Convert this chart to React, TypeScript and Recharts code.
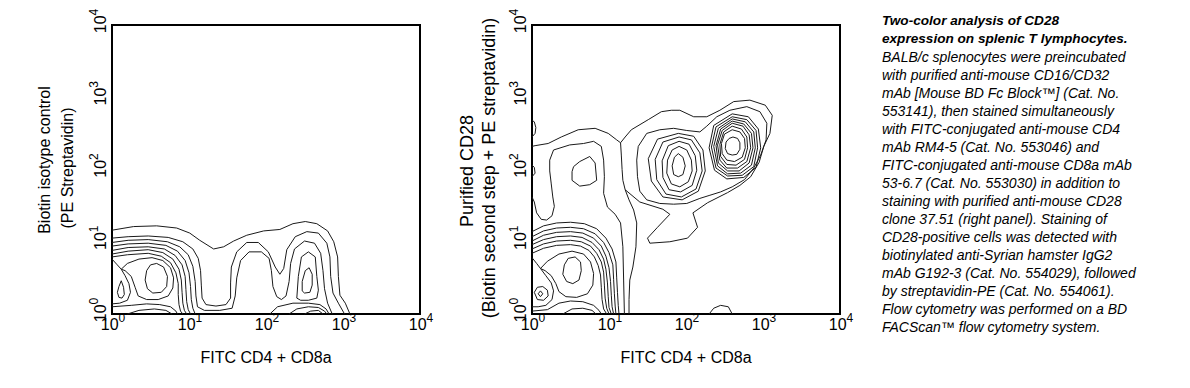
import React from 'react';
import { LineChart, Line, XAxis, YAxis, ReferenceArea } from 'recharts';

type Pt = [number, number];

// axes are in decades (log10 of fluorescence), 10^0 .. 10^4
const decades = [0, 1, 2, 3, 4];
const xTitle = 'FITC CD4 + CD8a';
const leftYTitle = ['Biotin isotype control', '(PE Streptavidin)'];
const rightYTitle = ['Purified CD28', '(Biotin second step + PE streptavidin)'];

const captionBold = ['Two-color analysis of CD28', 'expression on splenic T lymphocytes.'];
const captionLines = [
  'BALB/c splenocytes were preincubated',
  'with purified anti-mouse CD16/CD32',
  'mAb [Mouse BD Fc Block™] (Cat. No.',
  '553141), then stained simultaneously',
  'with FITC-conjugated anti-mouse CD4',
  'mAb RM4-5 (Cat. No. 553046) and',
  'FITC-conjugated anti-mouse CD8a mAb',
  '53-6.7 (Cat. No. 553030) in addition to',
  'staining with purified anti-mouse CD28',
  'clone 37.51 (right panel). Staining of',
  'CD28-positive cells was detected with',
  'biotinylated anti-Syrian hamster IgG2',
  'mAb G192-3 (Cat. No. 554029), followed',
  'by streptavidin-PE (Cat. No. 554061).',
  'Flow cytometry was performed on a BD',
  'FACScan™ flow cytometry system.',
];

// ---- left panel (isotype control) ----
const leftOuter: Pt[] = [[0,1.16],[0.28,1.21],[0.58,1.22],[0.84,1.19],[1.01,1.12],[1.14,1.02],[1.32,0.9],[1.45,0.93],[1.58,1.01],[1.75,1.09],[1.97,1.15],[2.18,1.17],[2.35,1.25],[2.51,1.28],[2.66,1.25],[2.8,1.15],[2.88,1.0],[2.93,0.79],[2.94,0.52],[2.96,0.26],[3.03,0.15],[3.09,0]];
const leftLevel2: Pt[] = [[0,1.05],[0.21,1.07],[0.47,1.08],[0.73,1.06],[0.92,1.0],[1.05,0.9],[1.12,0.77],[1.15,0.6],[1.16,0.4],[1.17,0.22],[1.22,0.13],[1.35,0.11],[1.48,0.13],[1.54,0.22],[1.54,0.43],[1.55,0.65],[1.62,0.86],[1.75,0.99],[1.9,0.99],[2.03,0.86],[2.12,0.65],[2.18,0.55],[2.23,0.63],[2.27,0.89],[2.38,1.07],[2.53,1.14],[2.68,1.12],[2.79,0.98],[2.83,0.79],[2.84,0.52],[2.87,0.29],[2.94,0.15],[3.02,0]];
const leftLevel3: Pt[] = [[0,0.99],[0.21,1.02],[0.47,1.03],[0.72,1.0],[0.88,0.93],[0.99,0.82],[1.05,0.66],[1.08,0.45],[1.09,0.25],[1.11,0.1],[1.2,0.05],[1.4,0.05],[1.56,0.08],[1.6,0.25],[1.62,0.5],[1.67,0.74],[1.78,0.86],[1.94,0.86],[2.04,0.77],[2.07,0.6],[2.09,0.38],[2.14,0.24],[2.2,0.2],[2.26,0.25],[2.3,0.45],[2.32,0.7],[2.37,0.9],[2.5,1.01],[2.63,0.98],[2.71,0.84],[2.74,0.6],[2.76,0.35],[2.8,0.15],[2.86,0]];
const leftBlob: Pt[][] = [
  [[0,0.94],[0.21,0.97],[0.47,0.98],[0.7,0.95],[0.85,0.87],[0.95,0.74],[1.0,0.57],[1.02,0.38],[1.03,0.2],[1.05,0.08],[1.08,0]],
  [[0,0.88],[0.21,0.92],[0.47,0.93],[0.68,0.9],[0.82,0.81],[0.91,0.68],[0.95,0.52],[0.96,0.34],[0.97,0.17],[0.99,0.06],[1.02,0]],
  [[0,0.83],[0.21,0.87],[0.47,0.89],[0.66,0.85],[0.79,0.76],[0.87,0.62],[0.9,0.47],[0.91,0.3],[0.92,0.15],[0.94,0.05],[0.97,0]],
  [[0,0.79],[0.2,0.82],[0.47,0.84],[0.64,0.8],[0.76,0.71],[0.83,0.57],[0.86,0.42],[0.86,0.27],[0.87,0.13],[0.89,0.04],[0.92,0]],
];
const leftSaddle: Pt[][] = [
  [[0.12,0.62],[0.2,0.7],[0.35,0.76],[0.52,0.78],[0.66,0.74],[0.76,0.64],[0.8,0.5],[0.79,0.36],[0.73,0.25],[0.6,0.2],[0.45,0.2],[0.34,0.25],[0.3,0.37],[0.25,0.52],[0.17,0.6],[0.12,0.62]],
  [[0,0.76],[0.06,0.69],[0.12,0.62],[0.17,0.53],[0.22,0.42],[0.24,0.3],[0.2,0.19],[0.1,0.15],[0,0.14]],
];
const leftCores: Pt[][] = [
  [[0.12,0.46],[0.09,0.38],[0.07,0.3],[0.09,0.23],[0.13,0.22],[0.16,0.27],[0.15,0.37],[0.12,0.46]],
  [[0.45,0.6],[0.5,0.68],[0.58,0.7],[0.67,0.65],[0.72,0.52],[0.71,0.38],[0.64,0.3],[0.53,0.29],[0.46,0.35],[0.43,0.47],[0.45,0.6]],
];
const leftFloor: Pt[][] = [
  [[0,0.1],[0.25,0.12],[0.45,0.14],[0.62,0.13],[0.76,0.1],[0.83,0.04],[0.85,0]],
  [[0.2,0],[0.35,0.05],[0.55,0.07],[0.7,0.05],[0.78,0]],
  [[2.05,0],[2.15,0.1],[2.35,0.15],[2.55,0.15],[2.7,0.13],[2.78,0.07],[2.82,0]],
  [[2.3,0],[2.4,0.07],[2.55,0.1],[2.68,0.09],[2.76,0.04],[2.79,0]],
  [[2.5,0],[2.58,0.04],[2.68,0.05],[2.74,0]],
];
const leftRightBump: Pt[][] = [
  [[2.4,0.22],[2.42,0.52],[2.46,0.79],[2.55,0.86],[2.64,0.79],[2.66,0.52],[2.68,0.33],[2.66,0.22],[2.55,0.19],[2.45,0.19],[2.4,0.22]],
  [[2.47,0.32],[2.47,0.45],[2.51,0.6],[2.56,0.64],[2.6,0.55],[2.6,0.4],[2.57,0.3],[2.5,0.29],[2.47,0.32]],
];

// ---- right panel (CD28) ----
const rightOuterLeft: Pt[] = [[0,2.32],[0.04,2.33],[0.21,2.36],[0.38,2.45],[0.6,2.55],[0.82,2.57],[0.99,2.5],[1.1,2.41],[1.15,2.37],[1.16,2.2],[1.17,2.0],[1.18,1.85],[1.21,1.72],[1.26,1.58],[1.32,1.44],[1.36,1.26],[1.35,0.93],[1.31,0.65],[1.27,0.47],[1.26,0.2],[1.26,0]];
const rightOuterLoop: Pt[] = [[1.21,1.72],[1.4,1.55],[1.7,1.45],[1.79,1.38],[1.63,1.2],[1.5,1.05],[1.53,0.98],[1.79,1.0],[2.02,1.05],[2.15,1.2],[2.09,1.4],[2.28,1.54],[2.54,1.68],[2.7,1.78],[2.84,1.9],[2.95,2.1],[3.01,2.32],[3.09,2.5],[3.12,2.75],[3.03,2.89],[2.83,2.96],[2.62,2.94],[2.44,2.82],[2.27,2.73],[2.1,2.73],[1.92,2.82],[1.81,2.82],[1.68,2.8],[1.51,2.69],[1.29,2.55],[1.21,2.45],[1.15,2.37]];
const rightLevel2Left: Pt[] = [[0,1.62],[0.03,1.55],[0.06,1.4],[0.12,1.31],[0.19,1.3],[0.26,1.36],[0.29,1.49],[0.27,1.62],[0.25,1.8],[0.23,1.98],[0.23,2.13],[0.28,2.27],[0.49,2.34],[0.67,2.36],[0.8,2.39],[0.9,2.32],[0.93,2.13],[0.94,1.9],[0.93,1.67],[0.98,1.48],[1.08,1.38],[1.15,1.26],[1.18,0.93],[1.19,0.47],[1.2,0]];
const rightIslands: Pt[][] = [
  [[0.54,2.04],[0.62,2.11],[0.75,2.18],[0.82,2.09],[0.84,1.85],[0.75,1.79],[0.62,1.77],[0.52,1.85],[0.52,1.97],[0.54,2.04]],
  [[0,2.45],[0.04,2.5],[0.05,2.58],[0.03,2.66],[0,2.68]],
  [[0,1.9],[0.04,1.95],[0.03,2.03],[0,2.06]],
  [[2.3,0],[2.36,0.08],[2.45,0.12],[2.55,0.1],[2.6,0]],
];
const rightPeaksLevel2: Pt[] = [[1.38,2.32],[1.49,2.5],[1.66,2.55],[1.84,2.57],[2.01,2.54],[2.18,2.52],[2.27,2.6],[2.4,2.73],[2.57,2.82],[2.79,2.87],[2.96,2.8],[3.05,2.64],[3.04,2.41],[2.97,2.2],[2.88,2.02],[2.76,1.86],[2.6,1.76],[2.45,1.69],[2.3,1.64],[2.18,1.6],[2.01,1.53],[1.84,1.52],[1.66,1.53],[1.49,1.58],[1.4,1.7],[1.37,1.9],[1.36,2.13],[1.38,2.32]];
const cd4PeakRings: Pt[][] = [
  [[1.9,2.22],[1.96,2.17],[1.99,2.05],[1.96,1.93],[1.9,1.9],[1.84,1.93],[1.82,2.05],[1.85,2.17],[1.9,2.22]],
  [[1.91,2.32],[2.01,2.27],[2.07,2.13],[2.08,1.98],[2.03,1.83],[1.92,1.76],[1.81,1.8],[1.75,1.95],[1.76,2.13],[1.82,2.27],[1.91,2.32]],
  [[1.91,2.39],[2.04,2.35],[2.12,2.19],[2.14,1.99],[2.08,1.78],[1.93,1.69],[1.78,1.72],[1.7,1.89],[1.69,2.12],[1.77,2.33],[1.91,2.39]],
  [[1.91,2.45],[2.07,2.41],[2.18,2.23],[2.21,1.98],[2.13,1.73],[1.94,1.62],[1.74,1.66],[1.62,1.86],[1.6,2.14],[1.7,2.38],[1.91,2.45]],
  [[1.9,2.5],[2.1,2.46],[2.22,2.27],[2.25,1.98],[2.16,1.7],[1.95,1.58],[1.7,1.62],[1.55,1.84],[1.51,2.15],[1.63,2.42],[1.9,2.5]],
];
const cd8PeakRings: Pt[][] = [
  [[2.61,2.45],[2.67,2.43],[2.7,2.37],[2.7,2.28],[2.66,2.21],[2.6,2.2],[2.54,2.22],[2.51,2.29],[2.52,2.38],[2.56,2.43],[2.61,2.45]],
  [[2.6,2.55],[2.7,2.52],[2.76,2.43],[2.77,2.3],[2.73,2.17],[2.63,2.11],[2.53,2.13],[2.47,2.22],[2.46,2.36],[2.5,2.49],[2.6,2.55]],
  [[2.6,2.6],[2.72,2.56],[2.79,2.45],[2.8,2.3],[2.76,2.14],[2.65,2.06],[2.53,2.07],[2.45,2.18],[2.44,2.35],[2.49,2.52],[2.6,2.6]],
  [[2.6,2.64],[2.74,2.6],[2.82,2.48],[2.84,2.3],[2.79,2.11],[2.67,2.02],[2.53,2.02],[2.44,2.13],[2.41,2.34],[2.47,2.54],[2.6,2.64]],
  [[2.6,2.67],[2.75,2.63],[2.85,2.5],[2.87,2.3],[2.82,2.09],[2.69,1.98],[2.54,1.98],[2.42,2.09],[2.39,2.33],[2.45,2.56],[2.6,2.67]],
  [[2.6,2.7],[2.77,2.66],[2.88,2.52],[2.9,2.3],[2.85,2.06],[2.71,1.95],[2.54,1.94],[2.41,2.05],[2.36,2.32],[2.42,2.57],[2.6,2.7]],
  [[2.6,2.73],[2.79,2.69],[2.91,2.54],[2.93,2.3],[2.88,2.04],[2.73,1.92],[2.54,1.91],[2.39,2.02],[2.33,2.31],[2.39,2.59],[2.6,2.73]],
  [[2.6,2.77],[2.81,2.73],[2.94,2.56],[2.97,2.3],[2.91,2.03],[2.75,1.89],[2.53,1.87],[2.37,1.99],[2.3,2.3],[2.36,2.61],[2.6,2.77]],
];
const rightBlob: Pt[][] = [
  [[0,1.14],[0.15,1.22],[0.32,1.26],[0.5,1.27],[0.68,1.25],[0.84,1.18],[0.96,1.05],[1.04,0.9],[1.09,0.72],[1.1,0.5],[1.11,0.3],[1.12,0.12],[1.13,0]],
  [[0,1.07],[0.15,1.15],[0.32,1.19],[0.5,1.2],[0.67,1.18],[0.82,1.11],[0.93,0.99],[1.0,0.85],[1.05,0.68],[1.06,0.48],[1.07,0.28],[1.08,0.11],[1.09,0]],
  [[0,1.01],[0.15,1.09],[0.32,1.13],[0.5,1.14],[0.66,1.12],[0.8,1.05],[0.9,0.94],[0.96,0.8],[1.0,0.64],[1.02,0.45],[1.03,0.26],[1.04,0.1],[1.06,0]],
  [[0,0.96],[0.15,1.03],[0.32,1.07],[0.5,1.08],[0.65,1.06],[0.78,0.99],[0.87,0.89],[0.93,0.76],[0.96,0.62],[0.98,0.43],[0.99,0.24],[1.0,0.09],[1.03,0]],
  [[0,0.9],[0.15,0.97],[0.32,1.01],[0.5,1.02],[0.64,1.0],[0.76,0.94],[0.84,0.84],[0.9,0.72],[0.93,0.58],[0.94,0.4],[0.95,0.22],[0.97,0.08],[1.0,0]],
  [[0,0.84],[0.15,0.91],[0.32,0.95],[0.5,0.96],[0.63,0.94],[0.74,0.88],[0.81,0.79],[0.86,0.67],[0.89,0.54],[0.9,0.37],[0.91,0.2],[0.93,0.07],[0.97,0]],
];
const rightSaddle: Pt[][] = [
  [[0.11,0.63],[0.2,0.73],[0.35,0.83],[0.52,0.87],[0.67,0.83],[0.76,0.72],[0.8,0.56],[0.79,0.4],[0.72,0.28],[0.58,0.23],[0.44,0.24],[0.35,0.31],[0.31,0.42],[0.25,0.53],[0.17,0.6],[0.11,0.63]],
  [[0,0.78],[0.06,0.7],[0.11,0.63],[0.18,0.53],[0.25,0.43],[0.28,0.32],[0.26,0.2],[0.18,0.12],[0.08,0.1],[0,0.1]],
];
const rightCores: Pt[][] = [
  [[0.03,0.3],[0.07,0.37],[0.14,0.38],[0.2,0.33],[0.21,0.25],[0.15,0.19],[0.07,0.2],[0.03,0.3]],
  [[0.08,0.28],[0.11,0.32],[0.14,0.28],[0.11,0.24],[0.08,0.28]],
  [[0.42,0.68],[0.47,0.77],[0.56,0.79],[0.63,0.72],[0.64,0.6],[0.61,0.47],[0.53,0.42],[0.45,0.45],[0.4,0.55],[0.42,0.68]],
];
const rightFloor: Pt[][] = [
  [[0,0.04],[0.2,0.06],[0.35,0.15],[0.5,0.18],[0.66,0.17],[0.8,0.12],[0.87,0.05],[0.9,0]],
  [[0.4,0],[0.52,0.07],[0.66,0.08],[0.78,0.05],[0.83,0]],
];

const leftContours: Pt[][] = [leftOuter, leftLevel2, leftLevel3, ...leftBlob, ...leftSaddle, ...leftCores, ...leftFloor, ...leftRightBump];
const rightContours: Pt[][] = [rightOuterLeft, rightOuterLoop, rightLevel2Left, ...rightIslands, rightPeaksLevel2, ...cd4PeakRings, ...cd8PeakRings, ...rightBlob, ...rightSaddle, ...rightCores, ...rightFloor];

const XTick = ({ x, payload }: any) => (
  <text x={x + 1} y={330} textAnchor="middle" fontSize={16} fill="#000">
    10<tspan dy={-8} fontSize={12}>{payload.value}</tspan>
  </text>
);

const YTick = ({ y, payload }: any) => (
  <text transform={`translate(106, ${y - 4}) rotate(-90)`} textAnchor="middle" fontSize={16} fill="#000">
    10<tspan dy={-8} fontSize={12}>{payload.value}</tspan>
  </text>
);

const XTitle = () => (
  <text x={266} y={363} textAnchor="middle" fontSize={16} fill="#000">{xTitle}</text>
);

const YTitle = ({ lines, xs, ys, size }: { lines: string[]; xs: number[]; ys: number[]; size: number }) => (
  <g>
    {lines.map((t, i) => (
      <text key={i} transform={`translate(${xs[i]}, ${ys[i]}) rotate(-90)`} textAnchor="middle" fontSize={size} fill="#000">
        {t}
      </text>
    ))}
  </g>
);

function Panel({ left, contours, title }: { left: number; contours: Pt[][]; title: React.ReactElement }) {
  return (
    <div style={{ position: 'absolute', left, top: 0 }}>
      <LineChart width={440} height={388} margin={{ top: 25, right: 20, bottom: 24, left: 82 }}>
        <XAxis type="number" dataKey="x" domain={[0, 4]} ticks={decades} interval={0} tick={<XTick />}
          tickLine={false} axisLine={false} height={50} label={<XTitle />} />
        <YAxis type="number" dataKey="y" domain={[0, 4]} ticks={decades} interval={0} tick={<YTick />}
          tickLine={false} axisLine={false} width={30} label={title} />
        <ReferenceArea x1={0} x2={4} y1={0} y2={4} fill="none" stroke="#000" strokeWidth={2} />
        {contours.map((c, i) => (
          <Line key={i} data={c.map(([x, y]) => ({ x, y }))} dataKey="y" type="linear" stroke="#1a1a1a"
            strokeWidth={1} dot={false} activeDot={false} isAnimationActive={false} />
        ))}
      </LineChart>
    </div>
  );
}

export default function App() {
  return (
    <div style={{ position: 'relative', width: 1190, height: 388, background: '#fff', overflow: 'hidden',
      fontFamily: 'Arial, "Liberation Sans", sans-serif' }}>
      <style>{'body{margin:0}'}</style>
      <Panel left={0} contours={leftContours}
        title={<YTitle lines={leftYTitle} xs={[50, 73]} ys={[160, 168]} size={16} />} />
      <Panel left={420} contours={rightContours}
        title={<YTitle lines={rightYTitle} xs={[53, 74.5]} ys={[171, 168]} size={18} />} />
      <div style={{ position: 'absolute', left: 882, top: 11.5, fontSize: 14, lineHeight: '18px',
        fontStyle: 'italic', color: '#000', whiteSpace: 'nowrap' }}>
        {captionBold.map((t) => <div key={t} style={{ fontWeight: 'bold', fontSize: 13.6 }}>{t}</div>)}
        {captionLines.map((t) => <div key={t}>{t}</div>)}
      </div>
    </div>
  );
}
